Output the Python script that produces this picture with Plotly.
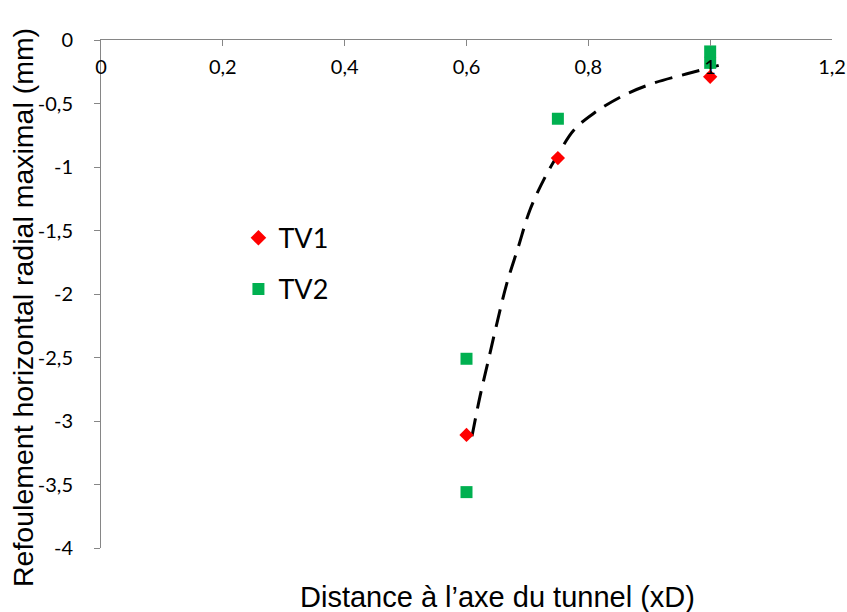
# Refoulement horizontal radial maximal vs distance to tunnel axis

import plotly.graph_objects as go

# Data
tv1_x = [0.6, 0.75, 1.0]
tv1_y = [-3.11, -0.93, -0.29]

tv2_x = [0.6, 0.6, 0.75, 1.0, 1.0]
tv2_y = [-2.51, -3.56, -0.62, -0.09, -0.18]

# dashed trend curve, points picked along the drawn line
trend_x = [0.609, 0.622, 0.636, 0.650, 0.666, 0.685, 0.704, 0.729, 0.751,
           0.776, 0.808, 0.858, 0.907, 0.962, 1.014]
trend_y = [-3.12, -2.81, -2.52, -2.23, -1.92, -1.63, -1.34, -1.08, -0.895,
           -0.71, -0.58, -0.436, -0.34, -0.266, -0.20]

x_ticks = [0, 0.2, 0.4, 0.6, 0.8, 1.0, 1.2]
x_labels = ["0", "0,2", "0,4", "0,6", "0,8", "1", "1,2"]
y_ticks = [0, -0.5, -1, -1.5, -2, -2.5, -3, -3.5, -4]
y_labels = ["0", "-0,5", "-1", "-1,5", "-2", "-2,5", "-3", "-3,5", "-4"]

TICK_FONT = dict(family="Lato, Open Sans, sans-serif", size=20, color="#000000")
TITLE_FONT = dict(family="Liberation Sans, Arial, sans-serif", size=28, color="#000000")
AXIS_COLOR = "#868686"

fig = go.Figure()

fig.add_trace(go.Scatter(
    x=trend_x, y=trend_y,
    mode="lines",
    line=dict(color="#000000", width=3, dash="18px,10px", shape="spline"),
    showlegend=False,
    hoverinfo="skip"
))

fig.add_trace(go.Scatter(
    x=tv1_x, y=tv1_y,
    mode="markers",
    name="TV1",
    legendgroup="tv1",
    marker=dict(symbol="diamond", color="#FF0000", size=11)
))

fig.add_trace(go.Scatter(
    x=tv2_x, y=tv2_y,
    mode="markers",
    name="TV2",
    legendgroup="tv2",
    marker=dict(symbol="square", color="#00B050", size=12)
))

fig.update_layout(
    width=847,
    height=612,
    template="plotly_white",
    paper_bgcolor="#FFFFFF",
    plot_bgcolor="#FFFFFF",
    margin=dict(l=101, r=15, t=40, b=64),
    legend=dict(
        x=0.188, y=0.658,
        xanchor="left", yanchor="top",
        font=dict(family="Lato, Open Sans, sans-serif", size=27, color="#000000"),
        bgcolor="rgba(0,0,0,0)",
        tracegroupgap=13,
        itemsizing="constant"
    ),
    annotations=[
        dict(
            text="Distance à l’axe du tunnel (xD)",
            x=0.543, y=-0.096, xref="paper", yref="paper",
            xanchor="center", yanchor="middle",
            showarrow=False, font=dict(TITLE_FONT, size=29)
        ),
        dict(
            text="Refoulement horizontal radial maximal (mm)",
            x=-0.107, y=0.474, xref="paper", yref="paper",
            xanchor="center", yanchor="middle", textangle=-90,
            showarrow=False, font=dict(TITLE_FONT, size=28.5)
        ),
    ]
)

fig.update_xaxes(
    range=[0, 1.2],
    side="top",
    tickvals=x_ticks, ticktext=x_labels,
    ticks="inside", ticklen=6, tickcolor=AXIS_COLOR,
    ticklabelposition="inside",
    ticklabelstandoff=15,
    ticklabeloverflow="allow",
    showline=True, linecolor=AXIS_COLOR, linewidth=1,
    showgrid=False, zeroline=False,
    automargin=False,
    tickfont=TICK_FONT
)

fig.update_yaxes(
    range=[-4, 0],
    tickvals=y_ticks, ticktext=y_labels,
    ticks="outside", ticklen=6, tickcolor=AXIS_COLOR,
    ticklabelstandoff=17,
    ticklabeloverflow="allow",
    showline=True, linecolor=AXIS_COLOR, linewidth=1,
    showgrid=False, zeroline=False,
    automargin=False,
    tickfont=TICK_FONT
)

# drop the default 8px page margin so the figure sits at the window corner
fig.write_html(
    "out.html",
    config={"displayModeBar": False},
    post_script="document.body.style.margin = '0';"
)
